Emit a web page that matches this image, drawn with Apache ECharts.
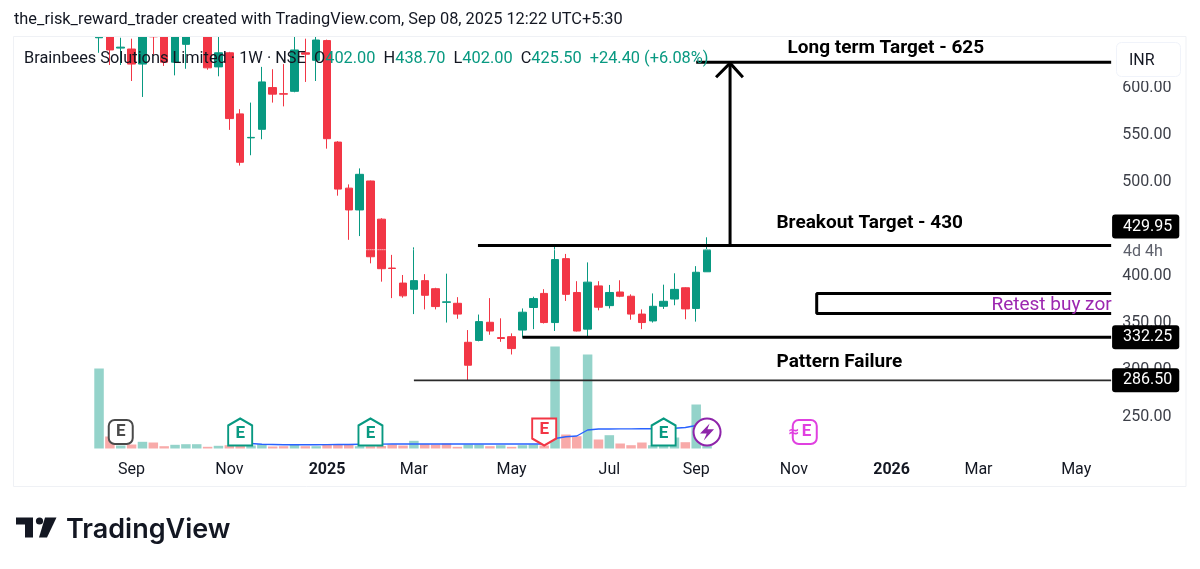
<!DOCTYPE html>
<html>
<head>
<meta charset="utf-8">
<title>Brainbees Solutions Limited</title>
<style>
    html, body { margin: 0; padding: 0; background: #fff; }
    #chart { width: 1200px; height: 569px; }
</style>
<script src="https://cdn.jsdelivr.net/npm/echarts@6/dist/echarts.min.js"></script>
</head>
<body>
<div id="chart"></div>
<script>
// weekly candles, first listed week is 2024-08-12
var firstWeek = '2024-06-24';
var leadWeeks = 7;
var weekCount = 101;

var opens = [651, 670, 640, 639, 623, 675, 670, 625, 644, 670, 670, 620, 635, 570, 544.5, 553.6, 598, 591.5, 594, 635, 627, 648, 540, 491, 467.8, 498.6, 458, 406, 390, 383.4, 392.6, 384, 369.5, 368.5, 327, 329, 348.3, 332, 333, 340, 364, 379, 348, 416, 380, 341, 387, 366, 380.5, 376, 357, 349.7, 365.3, 373, 385, 363, 402];
var closes = [720, 638, 641, 623, 660, 652, 625, 665, 665, 690, 619, 635, 565, 518.5, 545, 604, 591, 591, 638, 633.5, 648.6, 543.6, 490, 467.8, 505.7, 418, 405.3, 405.5, 376.4, 392.6, 377, 365, 370, 357, 302.6, 349, 339, 331, 320.3, 359, 373.5, 348, 415, 378, 339, 391, 364.3, 380, 376, 357, 348, 365.3, 370.6, 383.3, 362.5, 401.5, 425.5];
var lows = [635, 622, 622, 605, 588, 633, 621, 611, 618, 660, 617, 610, 553, 515, 526, 543, 582, 578, 593, 604, 605, 533, 483, 436, 440, 411, 391.5, 374, 374.5, 357, 362, 362, 348, 352, 286.5, 328, 335, 327.5, 314, 332, 341, 347, 339, 371, 338.5, 333, 361, 363, 375, 351, 341, 348, 362.5, 366.4, 351.5, 349, 402];
var highs = [735, 680, 651, 650, 670, 680, 680, 670, 670, 695, 680, 655, 636, 575, 582, 620, 617.5, 623, 665, 650, 655, 649, 541, 495, 512, 499, 459, 420, 398.6, 428, 399.5, 385, 400, 375, 340, 356.5, 374, 352.5, 336.5, 363, 375.5, 383.5, 431, 421, 392, 412, 392, 388, 393, 378, 362, 379, 388.3, 400.4, 385.5, 408, 438.7];
// million shares, a negative value is a red bar
var volumes = [8.0, -1.2, 0.3, -0.4, 0.67, -0.6, -0.23, 0.37, 0.43, 0.43, -0.17, 0.27, -0.33, -0.3, 0.3, 0.43, -0.2, -0.23, 0.4, -0.23, 0.23, -0.4, -0.43, -0.43, 0.23, -0.23, -0.25, -0.4, -0.3, 0.77, -0.43, -0.4, -0.5, -0.17, 0.4, 0.4, -0.23, 0.33, -0.17, 0.33, 0.4, -0.3, 10.2, -1.4, -1.23, 9.4, -0.9, 1.33, -0.5, -0.33, -0.6, 0.33, 0.3, 1.1, -0.63, 4.4, 0.3];
var volumeAvg = [null, null, null, null, null, null, null, null, null, null, null, null, null, null, 0.5, 0.42, 0.4, 0.38, 0.38, 0.38, 0.38, 0.39, 0.4, 0.4, 0.42, 0.43, 0.44, 0.45, 0.45, 0.45, 0.45, 0.45, 0.45, 0.45, 0.45, 0.45, 0.45, 0.45, 0.45, 0.45, 0.45, 0.45, 1.0, 1.18, 1.25, 1.85, 1.95, 1.95, 1.96, 1.96, 1.97, 1.97, 1.98, 2.03, 2.1, 2.3, 2.35];

var tickDates = ['2024-09-02', '2024-11-04', '2025-01-06', '2025-03-03', '2025-05-05', '2025-07-07', '2025-09-01', '2025-11-03', '2026-01-05', '2026-03-02', '2026-05-04'];
var tickLabels = ['Sep', 'Nov', '{year|2025}', 'Mar', 'May', 'Jul', 'Sep', 'Nov', '{year|2026}', 'Mar', 'May'];
var priceTicks = [250, 300, 350, 400, 500, 550, 600];

// drawn lines: x in weeks from the left of the pane, y in price
var lineTarget = [[62.5, 625], [100.72, 625]];
var lineBreakout = [[42.4, 429.95], [100.72, 429.95]];
var lineSupport = [[46.5, 332.25], [100.72, 332.25]];
var lineFailure = [[36.5, 286.5], [100.72, 286.5]];
var zoneOutline = [[100.72, 379], [73.6, 379], [73.6, 357.5], [100.72, 357.5]];
var arrowShaft = [[65.62, 429.95], [65.62, 624]];
var arrowHead = [[64.33, 609], [65.62, 624], [66.8, 609]];
var lastPriceLine = [[0, 425.5], [101, 425.5]];

var noteTexts = ['Long term Target - 625', 'Breakout Target - 430', 'Pattern Failure'];
var notePoints = [[70.87, 639.6], [69.85, 453.2], [69.85, 305.4]];
var retestText = 'Retest buy zor';
var retestPoint = [89.65, 366.8];

var badgeLabels = ['429.95', '332.25', '286.50'];
var badgePrices = [429.95, 332.25, 286.5];

var eventWeeks = [9, 20, 32, 48, 59, 63, 72];
var eventKinds = ['past', 'beat', 'beat', 'miss', 'beat', 'split', 'next'];

var UP = '#089981', DOWN = '#f23645', INK = '#131722';
var FONT = 'Roboto';

function buildWeeks() {
    var weeks = [];
    var t = Date.parse(firstWeek + 'T00:00:00Z');
    for (var i = 0; i < weekCount; i++) {
        weeks.push(new Date(t + i * 7 * 86400000).toISOString().slice(0, 10));
    }
    return weeks;
}

function pad(arr) {
    var out = [];
    for (var i = 0; i < leadWeeks; i++) out.push(null);
    return out.concat(arr);
}

var weeks = buildWeeks();

var candleData = weeks.map(function (w, i) {
    var k = i - leadWeeks;
    if (k < 0 || k >= opens.length) return ['-', '-', '-', '-'];
    return [opens[k], closes[k], lows[k], highs[k]];
});

var volumeData = pad(volumes).map(function (v) {
    if (v === null) return null;
    return { value: Math.abs(v), itemStyle: { color: v > 0 ? '#94d3ca' : '#f8aaa9' } };
});

function drawn(points, color, width, type) {
    return {
        type: 'line', xAxisIndex: 1, yAxisIndex: 0, data: points, z: 4,
        symbol: 'none', silent: true, animation: false,
        lineStyle: { color: color, width: width, type: type || 'solid' }
    };
}

var eventStyles = {
    past: { path: 'roundRect', size: [24, 24], color: '#4a4a4a', text: 'E', dy: 0, dx: 0 },
    beat: { path: 'path://M12 0 L24 7 V27 H0 V7 Z', size: [24, 27], color: UP, text: 'E', dy: 2, dx: 0 },
    miss: { path: 'path://M0 0 H24 V20 L12 27 L0 20 Z', size: [24, 27], color: DOWN, text: 'E', dy: -2, dx: 0 },
    split: { path: 'circle', size: [27, 27], color: '#8e24aa', text: '', dy: 0, dx: 0 },
    next: { path: 'roundRect', size: [24, 24], color: '#e040e0', text: '{s|≈}{e|E}', dy: 0, dx: -5 }
};

var eventData = eventWeeks.map(function (w, i) {
    var st = eventStyles[eventKinds[i]];
    return {
        value: [w, 1.65],
        symbol: st.path,
        symbolSize: st.size,
        itemStyle: { color: '#fff', borderColor: st.color, borderWidth: 2, opacity: 1 },
        label: {
            show: true, position: 'inside', formatter: st.text, offset: [st.dx, st.dy],
            fontFamily: FONT, fontWeight: 'bold', fontSize: 17, color: st.color,
            rich: {
                s: { fontFamily: 'DejaVu Sans', fontSize: 14, fontWeight: 'bold', color: st.color, padding: [0, 2, 0, 0] },
                e: { fontFamily: FONT, fontSize: 17, fontWeight: 'bold', color: st.color }
            }
        }
    };
});

var legendText = '{a|Brainbees Solutions Limited · 1W · NSE  O}{v|402.00}{a|  H}{v|438.70}{a|  L}{v|402.00}{a|  C}{v|425.50}{v|  +24.40 (+6.08%)}';

var option = {
    animation: false,
    backgroundColor: '#fff',
    textStyle: { fontFamily: FONT },
    title: [
        {
            text: 'the_risk_reward_trader created with TradingView.com, Sep 08, 2025 12:22 UTC+5:30',
            left: 14, top: 12, padding: 0, z: 20,
            textStyle: { fontFamily: FONT, fontWeight: 'normal', fontSize: 16.35, color: INK }
        },
        {
            text: legendText,
            left: 24, top: 51, padding: 0, z: 20,
            textStyle: {
                fontWeight: 'normal',
                rich: {
                    a: { fontFamily: FONT, fontSize: 16.35, fontWeight: 'normal', color: INK },
                    v: { fontFamily: FONT, fontSize: 16.35, fontWeight: 'normal', color: UP }
                }
            }
        }
    ],
    grid: { left: 17.6, top: 37, width: 1096.6, height: 411.5 },
    xAxis: [
        {
            type: 'category',
            data: weeks,
            axisLine: { show: false },
            axisTick: { show: false },
            splitLine: { show: false },
            axisLabel: {
                margin: 13,
                fontFamily: FONT,
                fontSize: 16,
                color: INK,
                interval: function (i, v) { return tickDates.indexOf(v) >= 0; },
                formatter: function (v) {
                    var k = tickDates.indexOf(v);
                    return k >= 0 ? tickLabels[k] : '';
                },
                rich: { year: { fontFamily: FONT, fontSize: 16, fontWeight: 'bold', color: INK } }
            }
        },
        { type: 'value', min: 0, max: weekCount, show: false }
    ],
    yAxis: [
        {
            type: 'value',
            min: 214,
            max: 651.8,
            position: 'right',
            axisLine: { show: false },
            axisTick: { show: false },
            splitLine: { show: false },
            axisLabel: {
                customValues: priceTicks,
                margin: 8,
                verticalAlign: 'top',
                lineHeight: 4,
                fontFamily: FONT,
                fontSize: 16,
                color: '#3c3f48',
                formatter: function (v) { return v.toFixed(2); }
            }
        },
        { type: 'value', min: 0, max: 41.15, show: false }
    ],
    series: [
        {
            name: 'Volume', type: 'bar', xAxisIndex: 0, yAxisIndex: 1,
            data: volumeData, barWidth: 9.5, z: 1
        },
        {
            name: 'Volume MA', type: 'line', xAxisIndex: 0, yAxisIndex: 1,
            data: pad(volumeAvg), symbol: 'none', z: 2,
            lineStyle: { color: '#2962ff', width: 1.4 }
        },
        {
            name: 'Price', type: 'candlestick', xAxisIndex: 0, yAxisIndex: 0,
            data: candleData, barWidth: 8, z: 3,
            itemStyle: { color: UP, color0: DOWN, borderColor: UP, borderColor0: DOWN, borderWidth: 1 }
        },
        drawn(lastPriceLine, '#fff', 1, 'dotted'),
        drawn(lineTarget, '#000', 3),
        drawn(lineBreakout, '#000', 3),
        drawn(lineSupport, '#000', 3),
        drawn(lineFailure, '#2a2a2a', 1.6),
        drawn(zoneOutline, '#000', 3),
        drawn(arrowShaft, '#000', 3),
        drawn(arrowHead, '#000', 3),
        {
            name: 'Earnings', type: 'scatter', xAxisIndex: 0, yAxisIndex: 1,
            data: eventData, z: 6, silent: true
        },
        {
            // lightning glyph of the split marker, sits inside the circle
            name: 'Split', type: 'scatter', xAxisIndex: 0, yAxisIndex: 1,
            data: [[63, 1.65]], z: 7, silent: true,
            symbol: 'path://M14 0 L1 14 H10 L6 24 L20 8 H11 Z', symbolSize: [14, 17],
            itemStyle: { color: '#8e24aa', opacity: 1 }
        },
        {
            name: 'Notes', type: 'scatter', xAxisIndex: 1, yAxisIndex: 0, z: 8, silent: true,
            symbolSize: 1, itemStyle: { color: 'transparent', opacity: 1 },
            data: noteTexts.map(function (t, i) { return { value: notePoints[i], name: t }; }).concat([
                {
                    value: retestPoint, name: retestText,
                    label: { fontWeight: 'normal', fontSize: 19, color: '#9c27b0' }
                }
            ]),
            label: {
                show: true, position: 'right', distance: 0,
                fontFamily: FONT, fontSize: 19, fontWeight: 'bold', color: '#000',
                formatter: function (p) { return p.name; }
            }
        },
        {
            name: 'Badges', type: 'scatter', xAxisIndex: 1, yAxisIndex: 0, z: 9, silent: true,
            symbolSize: 1, itemStyle: { color: 'transparent', opacity: 1 },
            data: badgePrices.map(function (p, i) {
                return {
                    value: [100.76, p], name: badgeLabels[i],
                    label: {
                        show: true, position: 'right', distance: 0,
                        offset: i === 0 ? [0, -19] : [0, 0],
                        fontFamily: FONT, fontSize: 16, color: '#fff', lineHeight: 16,
                        backgroundColor: '#000', borderRadius: 3, padding: [4, 7, 4, 11],
                        formatter: function (q) { return q.name; }
                    }
                };
            }).concat([
                {
                    value: [100.76, 429.95], name: '4d 4h',
                    label: {
                        show: true, position: 'right', distance: 0, offset: [11, 6],
                        fontFamily: FONT, fontSize: 16, color: '#5d606b',
                        formatter: function (q) { return q.name; }
                    }
                }
            ])
        }
    ],
    graphic: [
        {
            // candle bodies are not cut at the pane top, so cover what sticks out
            type: 'rect', z: 5, silent: true,
            shape: { x: 0, y: 0, width: 1200, height: 36.5 },
            style: { fill: '#fff' }
        },
        {
            type: 'rect', z: 5, silent: true,
            shape: { x: 13.5, y: 36.5, width: 1172.5, height: 450 },
            style: { fill: 'none', stroke: '#eff1f5', lineWidth: 1 }
        },
        {
            type: 'rect', z: 50, silent: true,
            shape: { x: 1113, y: 38, width: 72, height: 43 },
            style: { fill: '#fff' }
        },
        {
            type: 'rect', z: 51, silent: true,
            shape: { x: 1116.5, y: 42.5, width: 64, height: 34, r: 5 },
            style: { fill: '#fff', stroke: '#f0f3fa', lineWidth: 1 }
        },
        {
            type: 'text', z: 52, silent: true, x: 1129, y: 53,
            style: { text: 'INR', fontFamily: FONT, fontSize: 16, fill: INK }
        },
        {
            type: 'polygon', silent: true,
            shape: { points: [[16, 517.5], [33, 517.5], [33, 537.5], [25, 537.5], [25, 524.5], [16, 524.5]] },
            style: { fill: INK }
        },
        {
            type: 'circle', silent: true,
            shape: { cx: 39.5, cy: 521, r: 3.6 },
            style: { fill: INK }
        },
        {
            type: 'polygon', silent: true,
            shape: { points: [[45, 517.5], [56.5, 517.5], [47, 537.5], [39, 537.5]] },
            style: { fill: INK }
        },
        {
            type: 'text', silent: true, x: 66, y: 516,
            style: { text: 'TradingView', fontFamily: 'Inter', fontWeight: 600, fontSize: 27, fill: INK }
        }
    ]
};

var myChart = echarts.init(document.getElementById('chart'));
myChart.setOption(option);
</script>
</body>
</html>
